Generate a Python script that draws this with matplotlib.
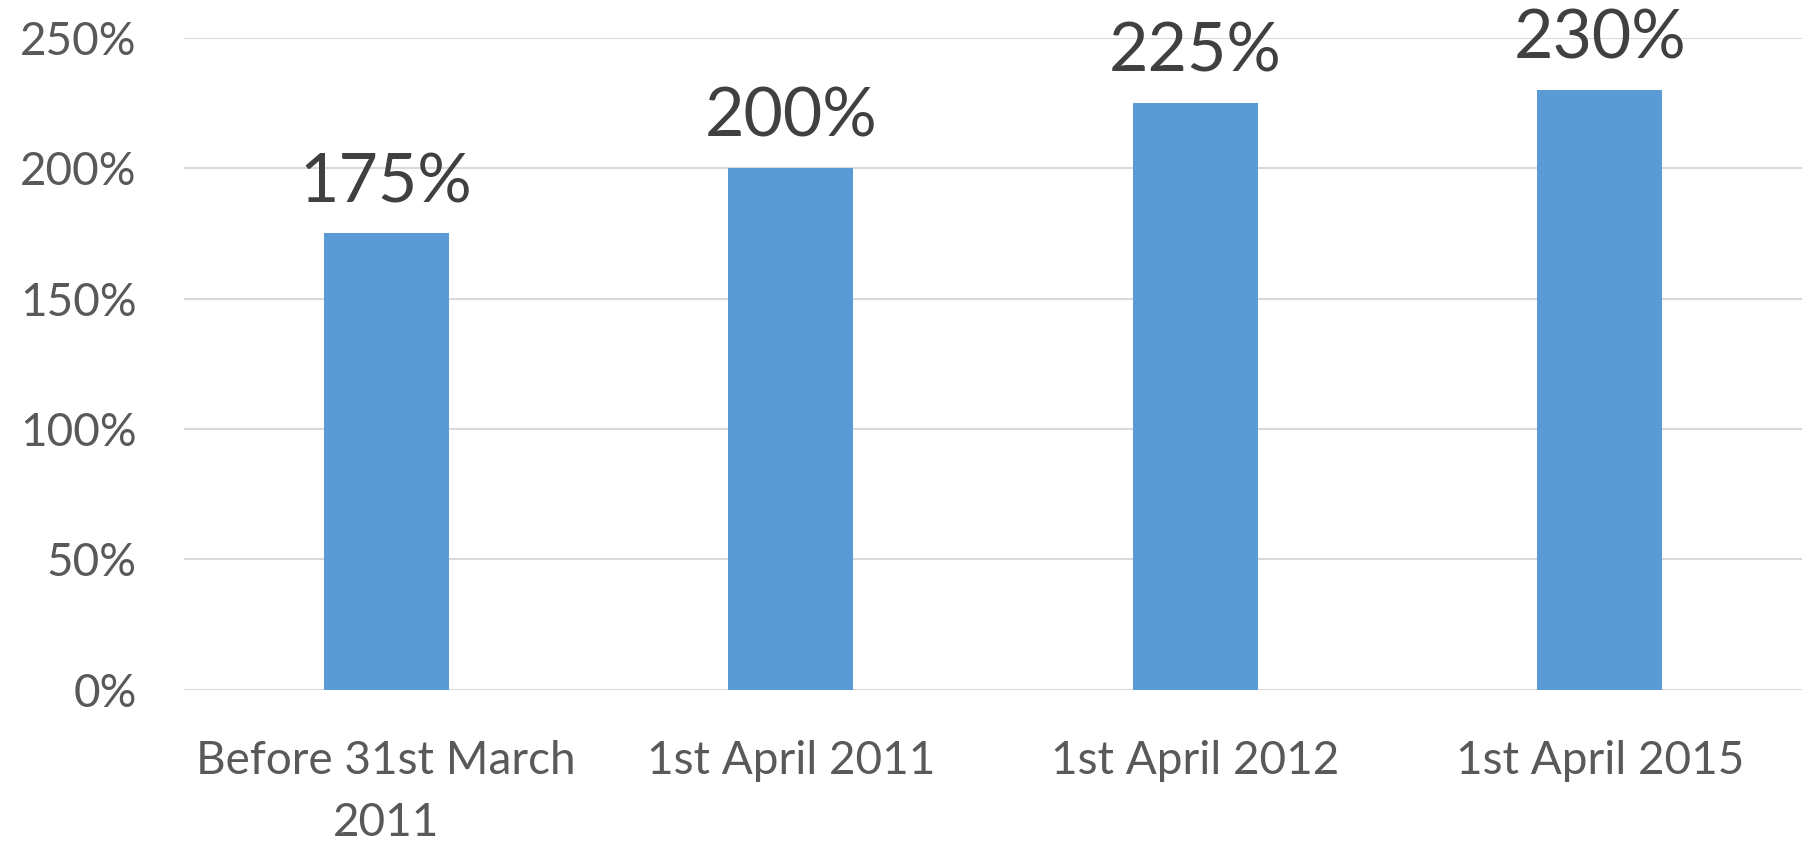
import matplotlib.pyplot as plt

categories = ["Before 31st March\n2011", "1st April 2011", "1st April 2012", "1st April 2015"]
values = [175, 200, 225, 230]
y_ticks = [0, 50, 100, 150, 200, 250]

plt.rcParams['font.family'] = ['Lato', 'DejaVu Sans']

fig = plt.figure(figsize=(18.02, 8.46), dpi=100)
ax = fig.add_axes([184 / 1802, 1 - 689.5 / 846, (1802 - 184) / 1802, (689.5 - 38) / 846])

x = range(len(categories))
ax.bar(x, values, width=0.31, color='#5b9bd5', zorder=3)

# value labels above each bar
for xi, v in zip(x, values):
    ax.annotate(f"{v}%", (xi, v), xytext=(0, 14), textcoords='offset points',
                ha='center', va='bottom', fontsize=49, color='#404040',
                annotation_clip=False)

ax.set_xlim(-0.5, len(categories) - 0.5)
ax.set_ylim(0, 250)
ax.set_yticks(y_ticks)
ax.set_yticklabels([f"{t}%" for t in y_ticks])
ax.set_xticks(list(x))
ax.set_xticklabels(categories, linespacing=1.6)

ax.grid(axis='y', color='#d9d9d9', linewidth=1.5, zorder=0)
for s in ax.spines.values():
    s.set_visible(False)
ax.tick_params(axis='both', length=0, labelsize=33, colors='#595959')
ax.tick_params(axis='y', pad=34)
ax.tick_params(axis='x', pad=36)

fig.savefig('out.png', dpi=100)
